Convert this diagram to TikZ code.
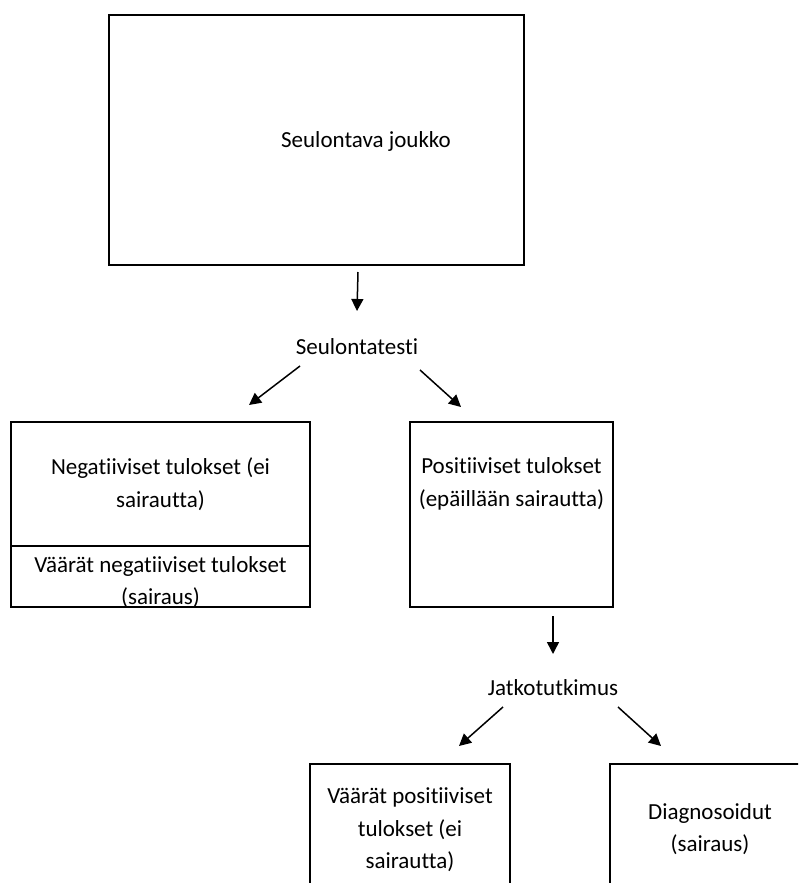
\documentclass[tikz,border=0pt]{standalone}
\usepackage{fontspec}
\setmainfont{Carlito}[RawFeature=-liga]
\usetikzlibrary{arrows.meta}
\begin{document}
\begin{tikzpicture}[x=1pt,y=-1pt,
  box/.style={draw=black,line width=2pt,inner sep=0pt},
  txt/.style={font=\fontsize{23}{32.5}\selectfont,align=center,inner sep=0pt},
  arr/.style={line width=1.5pt,-{Triangle[length=12pt,width=12pt]}}]
\useasboundingbox (0,0) rectangle (798,883);
\clip (0,0) rectangle (798,883);
\fill[white] (0,0) rectangle (798,883);
% boxes
\node[box,minimum width=415pt,minimum height=250pt] (top) at (316.5,140) {};
\node[txt] (toptxt) at (366,141) {Seulontava joukko};
\node[box,minimum width=299pt,minimum height=124pt] (neg) at (160.5,484) {};
\node[box,minimum width=299pt,minimum height=61pt] (fneg) at (160.5,576.5) {};
\node[txt] (negtxt) at (160.5,484) {Negatiiviset tulokset (ei\\sairautta)};
\node[txt] (fnegtxt) at (160.5,582) {Väärät negatiiviset tulokset\\(sairaus)};
\node[box,minimum width=203pt,minimum height=185pt] (pos) at (511.5,514.5) {};
\node[txt] (postxt) at (511.5,484) {Positiiviset tulokset\\(epäillään sairautta)};
\node[box,minimum width=200pt,minimum height=136pt] (fpos) at (410,832) {};
\node[txt] (fpostxt) at (410,830) {Väärät positiiviset\\tulokset (ei\\sairautta)};
\node[box,minimum width=200pt,minimum height=136pt] (diag) at (710,832) {};
\node[txt] (diagtxt) at (710,829) {Diagnosoidut\\(sairaus)};
% middle labels
\node[txt] (test) at (357,347) {Seulontatesti};
\node[txt] (jatko) at (553,688) {Jatkotutkimus};
% arrow end points
\coordinate (a1s) at (358,272); \coordinate (a1e) at (357,311);
\coordinate (a2s) at (300,366); \coordinate (a2e) at (249,405);
\coordinate (a3s) at (420,370); \coordinate (a3e) at (461,407);
\coordinate (a4s) at (553,616); \coordinate (a4e) at (553,654);
\coordinate (a5s) at (503,707); \coordinate (a5e) at (459,746);
\coordinate (a6s) at (618,707); \coordinate (a6e) at (661,746);
\draw[arr] (a1s) -- (a1e);
\draw[arr] (a2s) -- (a2e);
\draw[arr] (a3s) -- (a3e);
\draw[arr] (a4s) -- (a4e);
\draw[arr] (a5s) -- (a5e);
\draw[arr] (a6s) -- (a6e);
\end{tikzpicture}
\end{document}
